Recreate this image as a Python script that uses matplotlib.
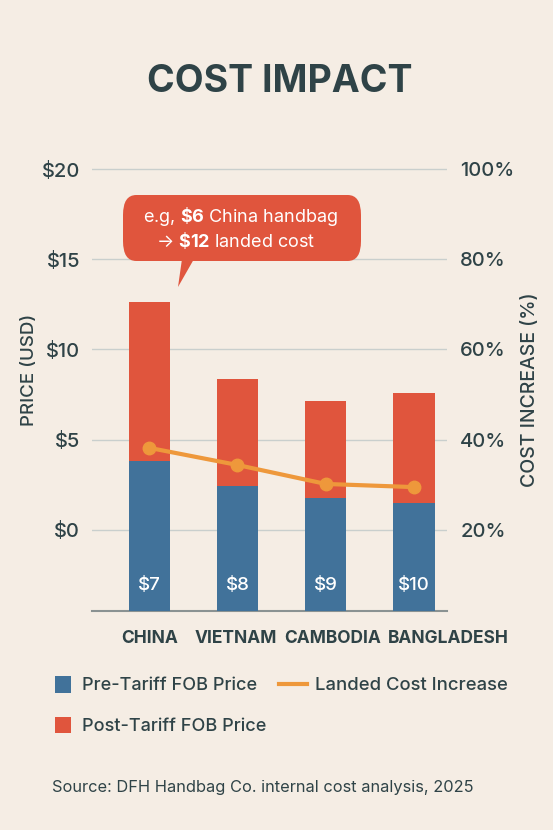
import matplotlib
matplotlib.use("Agg")
import matplotlib.pyplot as plt
import matplotlib.transforms as mtransforms
from matplotlib.patches import FancyBboxPatch, Polygon, Rectangle
from matplotlib.lines import Line2D
import numpy as np

plt.rcParams['font.family'] = ['Inter', 'DejaVu Sans']
plt.rcParams['mathtext.fontset'] = 'custom'
plt.rcParams['mathtext.rm'] = 'Inter'
plt.rcParams['mathtext.bf'] = 'Inter:bold'

# ---- data ----
countries = ["CHINA", "VIETNAM", "CAMBODIA", "BANGLADESH"]
pre_tariff = [3.84, 2.44, 1.77, 1.50]      # top of blue segment ($)
post_tariff = [12.63, 8.37, 7.16, 7.59]    # top of red segment ($)
landed_increase = [38.2, 34.4, 30.2, 29.5] # %
bar_labels = ["$7", "$8", "$9", "$10"]
price_ticks = [0, 5, 10, 15, 20]
price_labels = ["$0", "$5", "$10", "$15", "$20"]
pct_ticks = [20, 40, 60, 80, 100]
pct_labels = ["20%", "40%", "60%", "80%", "100%"]

BG = "#f5ede4"
TEXT = "#2f4347"
BLUE = "#41729a"
RED = "#e0553d"
ORANGE = "#ee983b"
GRID = "#c9cfcd"

fig = plt.figure(figsize=(5.53, 8.30), dpi=100, facecolor=BG)
ax = fig.add_axes([92/553, 1-611/830, 355/553, 451/830])
ax.set_facecolor(BG)

ylo, yhi = -4.49, 20.5
ax.set_ylim(ylo, yhi)
ax.set_xlim(-0.648, 3.374)
x = np.arange(len(countries))
pre = np.array(pre_tariff)
post = np.array(post_tariff)
w = 0.465
ax.bar(x, pre - ylo, bottom=ylo, width=w, color=BLUE, zorder=3)
ax.bar(x, post - pre, bottom=pre, width=w, color=RED, zorder=3)

for xi, lab in zip(x, bar_labels):
    ax.text(xi, -3.05, lab, ha='center', va='center', color='white', fontsize=13.5,
            fontweight='medium', zorder=4)

ax.set_yticks(price_ticks)
ax.set_yticklabels(price_labels, fontweight='medium')
ax.grid(axis='y', color=GRID, lw=1, zorder=0)
ax.set_axisbelow(True)
for s in ['top', 'left', 'right']:
    ax.spines[s].set_visible(False)
ax.spines['bottom'].set_color('#8a9292')
ax.spines['bottom'].set_linewidth(1.5)
ax.tick_params(axis='y', length=0, pad=8.5, labelsize=14.5, labelcolor=TEXT)
ax.set_xticks(x)
ax.set_xticklabels(countries, fontweight='bold')
ax.tick_params(axis='x', length=0, pad=14, labelsize=12.5, labelcolor=TEXT)
xlabels = ax.get_xticklabels()
xlabels[1].set_transform(xlabels[1].get_transform() +
                         mtransforms.ScaledTranslation(-0.02, 0, fig.dpi_scale_trans))
xlabels[2].set_transform(xlabels[2].get_transform() +
                         mtransforms.ScaledTranslation(0.07, 0, fig.dpi_scale_trans))
xlabels[3].set_ha('left')
xlabels[3].set_transform(xlabels[3].get_transform() +
                         mtransforms.ScaledTranslation(-0.26, 0, fig.dpi_scale_trans))
ax.set_ylabel("PRICE (USD)", fontsize=13.5, color=TEXT, fontweight='medium')
ax.yaxis.set_label_coords(-0.152, 0.535)

ax2 = ax.twinx()
ax2.set_ylim(20 + 4*ylo, 20 + 4*yhi)
ax2.set_yticks(pct_ticks)
ax2.set_yticklabels(pct_labels, fontweight='medium')
ax2.tick_params(axis='y', length=0, pad=9.5, labelsize=14.5, labelcolor=TEXT)
for s in ['top', 'left', 'right', 'bottom']:
    ax2.spines[s].set_visible(False)
ax2.plot(x, landed_increase, color=ORANGE, lw=3, marker='o', markersize=9, zorder=5)
ax2.set_ylabel("COST INCREASE (%)", fontsize=14, color=TEXT, fontweight='medium')
ax2.yaxis.set_label_coords(1.208, 0.49)

# ---- callout ----
def fx(px): return px/553
def fy(py): return 1 - py/830
box = FancyBboxPatch((fx(123), fy(261)), fx(361)-fx(123), fy(195)-fy(261),
                     boxstyle="round,pad=0,rounding_size=0.024", transform=fig.transFigure,
                     facecolor=RED, edgecolor='none', zorder=10)
fig.patches.append(box)
tail = Polygon([(fx(182), fy(259)), (fx(194), fy(259)), (fx(178), fy(287))],
               closed=True, transform=fig.transFigure, facecolor=RED, edgecolor='none', zorder=10)
fig.patches.append(tail)
fig.text(fx(241), fy(217), r"e.g, $\mathbf{\$6}$ China handbag", ha='center', va='center',
         color='white', fontsize=13, zorder=11)
fig.text(fx(236), fy(240), r"→ $\mathbf{\$12}$ landed cost", ha='center', va='center',
         color='white', fontsize=13, zorder=11)

# ---- title ----
fig.text(fx(279.5), fy(82), "COST IMPACT", ha='center', va='center', fontsize=27,
         fontweight='bold', color=TEXT)

# ---- legend ----
fig.patches.append(Rectangle((fx(55), fy(693)), fx(70.5)-fx(55), fy(676)-fy(693),
                             transform=fig.transFigure, facecolor=BLUE, edgecolor='none'))
fig.text(fx(82), fy(685), "Pre-Tariff FOB Price", ha='left', va='center', fontsize=13,
         color=TEXT, fontweight='medium')
fig.patches.append(Rectangle((fx(55), fy(733)), fx(70.5)-fx(55), fy(717)-fy(733),
                             transform=fig.transFigure, facecolor=RED, edgecolor='none'))
fig.text(fx(82), fy(726), "Post-Tariff FOB Price", ha='left', va='center', fontsize=13,
         color=TEXT, fontweight='medium')
fig.lines.append(Line2D([fx(279), fx(307)], [fy(684), fy(684)], transform=fig.transFigure,
                        color=ORANGE, lw=3))
fig.text(fx(315), fy(685), "Landed Cost Increase", ha='left', va='center', fontsize=13.3,
         color=TEXT, fontweight='medium')

fig.text(fx(52), fy(787), "Source: DFH Handbag Co. internal cost analysis, 2025", ha='left',
         va='center', fontsize=11.8, color=TEXT)

fig.savefig("out.png", dpi=100, facecolor=BG)
